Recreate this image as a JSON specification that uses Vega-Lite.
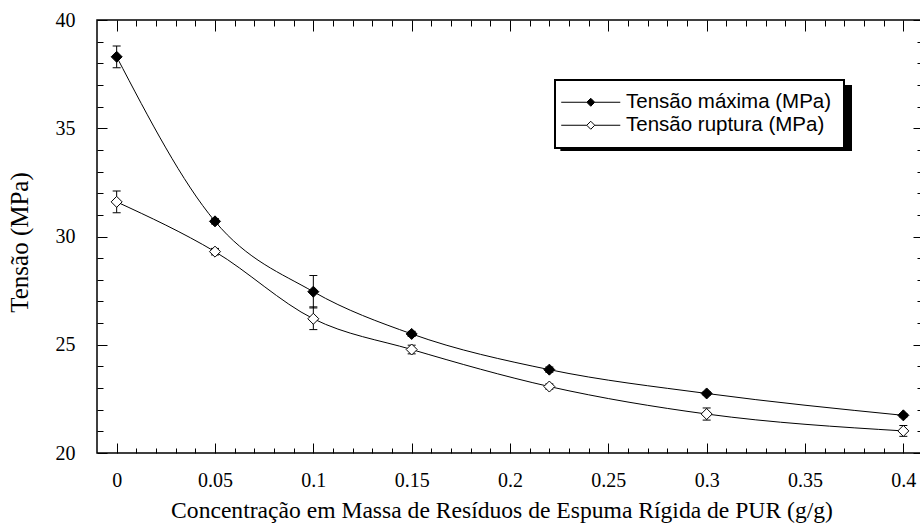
{
  "$schema": "https://vega.github.io/schema/vega-lite/v6.json",
  "width": 826,
  "height": 433,
  "autosize": "none",
  "padding": {"left": 97, "top": 20, "right": 0, "bottom": 73},
  "background": "white",
  "config": {
    "view": {"stroke": "black", "strokeWidth": 1.5},
    "axis": {"domain": false, "grid": false, "tickColor": "black", "tickWidth": 1, "labelColor": "black", "titleColor": "black"}
  },
  "data": {"values": [
    {"series": "Tensão máxima (MPa)", "x": 0, "y": 38.3, "lo": 37.8, "hi": 38.8},
    {"series": "Tensão máxima (MPa)", "x": 0.05, "y": 30.7, "lo": 30.58, "hi": 30.82},
    {"series": "Tensão máxima (MPa)", "x": 0.1, "y": 27.45, "lo": 26.7, "hi": 28.2},
    {"series": "Tensão máxima (MPa)", "x": 0.15, "y": 25.5, "lo": 25.38, "hi": 25.62},
    {"series": "Tensão máxima (MPa)", "x": 0.22, "y": 23.85, "lo": 23.73, "hi": 23.97},
    {"series": "Tensão máxima (MPa)", "x": 0.3, "y": 22.75, "lo": 22.67, "hi": 22.83},
    {"series": "Tensão máxima (MPa)", "x": 0.4, "y": 21.74, "lo": 21.66, "hi": 21.82},
    {"series": "Tensão ruptura (MPa)", "x": 0, "y": 31.6, "lo": 31.1, "hi": 32.1},
    {"series": "Tensão ruptura (MPa)", "x": 0.05, "y": 29.3, "lo": 29.15, "hi": 29.45},
    {"series": "Tensão ruptura (MPa)", "x": 0.1, "y": 26.2, "lo": 25.7, "hi": 26.75},
    {"series": "Tensão ruptura (MPa)", "x": 0.15, "y": 24.78, "lo": 24.58, "hi": 24.98},
    {"series": "Tensão ruptura (MPa)", "x": 0.22, "y": 23.07, "lo": 22.95, "hi": 23.19},
    {"series": "Tensão ruptura (MPa)", "x": 0.3, "y": 21.8, "lo": 21.52, "hi": 22.08},
    {"series": "Tensão ruptura (MPa)", "x": 0.4, "y": 21.02, "lo": 20.77, "hi": 21.27}
  ]},
  "layer": [
    {
      "mark": {"type": "rect", "fill": "black"},
      "encoding": {
        "x": {"datum": 0.2259, "type": "quantitative", "axis": null},
        "x2": {"datum": 0.3739},
        "y": {"datum": 37.0, "type": "quantitative", "axis": null},
        "y2": {"datum": 33.95}
      }
    },
    {
      "mark": {"type": "line", "interpolate": "monotone", "stroke": "black", "strokeWidth": 1},
      "encoding": {
        "x": {"field": "x", "type": "quantitative",
          "scale": {"domain": [-0.01, 0.41], "nice": false, "zero": false},
          "axis": {"orient": "bottom",
            "values": [0,0.01,0.02,0.03,0.04,0.05,0.06,0.07,0.08,0.09,0.1,0.11,0.12,0.13,0.14,0.15,0.16,0.17,0.18,0.19,0.2,0.21,0.22,0.23,0.24,0.25,0.26,0.27,0.28,0.29,0.3,0.31,0.32,0.33,0.34,0.35,0.36,0.37,0.38,0.39,0.4],
            "tickSize": {"condition": {"test": "round(datum.value*100)%5==0", "value": -10}, "value": -5},
            "labelExpr": "round(datum.value*100)%5==0 ? format(datum.value, '~g') : ''",
            "labelFont": "Liberation Serif", "labelFontSize": 20, "labelPadding": 27,
            "title": "Concentração em Massa de Resíduos de Espuma Rígida de PUR (g/g)",
            "titleFont": "Liberation Serif", "titleFontSize": 23.6, "titleFontWeight": "normal", "titlePadding": 8, "titleX": 404.5}},
        "y": {"field": "y", "type": "quantitative",
          "scale": {"domain": [20, 40], "nice": false, "zero": false},
          "axis": {"orient": "left",
            "values": [20,21,22,23,24,25,26,27,28,29,30,31,32,33,34,35,36,37,38,39,40],
            "tickSize": {"condition": {"test": "datum.value%5==0", "value": -10}, "value": -6},
            "labelExpr": "datum.value%5==0 ? datum.label : ''",
            "labelFont": "Liberation Serif", "labelFontSize": 20, "labelPadding": 32,
            "title": "Tensão (MPa)",
            "titleFont": "Liberation Serif", "titleFontSize": 25, "titleFontWeight": "normal", "titlePadding": 23, "titleY": 222}},
        "detail": {"field": "series"}
      }
    },
    {
      "mark": {"type": "rule", "stroke": "black", "strokeWidth": 1},
      "encoding": {
        "x": {"field": "x", "type": "quantitative",
          "axis": {"orient": "top",
            "values": [0,0.01,0.02,0.03,0.04,0.05,0.06,0.07,0.08,0.09,0.1,0.11,0.12,0.13,0.14,0.15,0.16,0.17,0.18,0.19,0.2,0.21,0.22,0.23,0.24,0.25,0.26,0.27,0.28,0.29,0.3,0.31,0.32,0.33,0.34,0.35,0.36,0.37,0.38,0.39,0.4],
            "tickSize": {"condition": {"test": "round(datum.value*100)%5==0", "value": -11}, "value": -6},
            "labels": false, "title": null}},
        "y": {"field": "lo", "type": "quantitative",
          "axis": {"orient": "right",
            "values": [20,21,22,23,24,25,26,27,28,29,30,31,32,33,34,35,36,37,38,39,40],
            "tickSize": {"condition": {"test": "datum.value%5==0", "value": -10}, "value": -6},
            "labels": false, "title": null}},
        "y2": {"field": "hi"}
      }
    },
    {
      "mark": {"type": "tick", "orient": "horizontal", "size": 8, "thickness": 1, "color": "black", "opacity": 1},
      "encoding": {
        "x": {"field": "x", "type": "quantitative", "axis": null},
        "y": {"field": "lo", "type": "quantitative", "axis": null}
      }
    },
    {
      "mark": {"type": "tick", "orient": "horizontal", "size": 8, "thickness": 1, "color": "black", "opacity": 1},
      "encoding": {
        "x": {"field": "x", "type": "quantitative", "axis": null},
        "y": {"field": "hi", "type": "quantitative", "axis": null}
      }
    },
    {
      "mark": {"type": "point", "shape": "diamond", "filled": true, "size": 121, "stroke": "black", "strokeWidth": 1, "opacity": 1},
      "encoding": {
        "x": {"field": "x", "type": "quantitative", "axis": null},
        "y": {"field": "y", "type": "quantitative", "axis": null},
        "fill": {"field": "series", "type": "nominal",
          "scale": {"domain": ["Tensão máxima (MPa)", "Tensão ruptura (MPa)"], "range": ["black", "white"]},
          "legend": {"orient": "none", "legendX": 458, "legendY": 60, "title": null,
            "symbolType": "M-3.69,0L-0.5,0M0.5,0L3.69,0M0,-0.5L0.5,0L0,0.5L-0.5,0Z",
            "symbolSize": 256, "symbolStrokeColor": "black", "symbolStrokeWidth": 1, "symbolOpacity": 1,
            "symbolOffset": 13.5,
            "labelFont": "Liberation Sans", "labelFontSize": 20.5, "labelColor": "black", "labelOffset": 25, "labelLimit": 0,
            "strokeColor": "black", "fillColor": "white", "padding": 12, "rowPadding": 2,
            "encode": {"legend": {"update": {"strokeWidth": {"value": 2}}}}}}
      }
    }
  ],
  "resolve": {"axis": {"x": "independent", "y": "independent"}}
}
